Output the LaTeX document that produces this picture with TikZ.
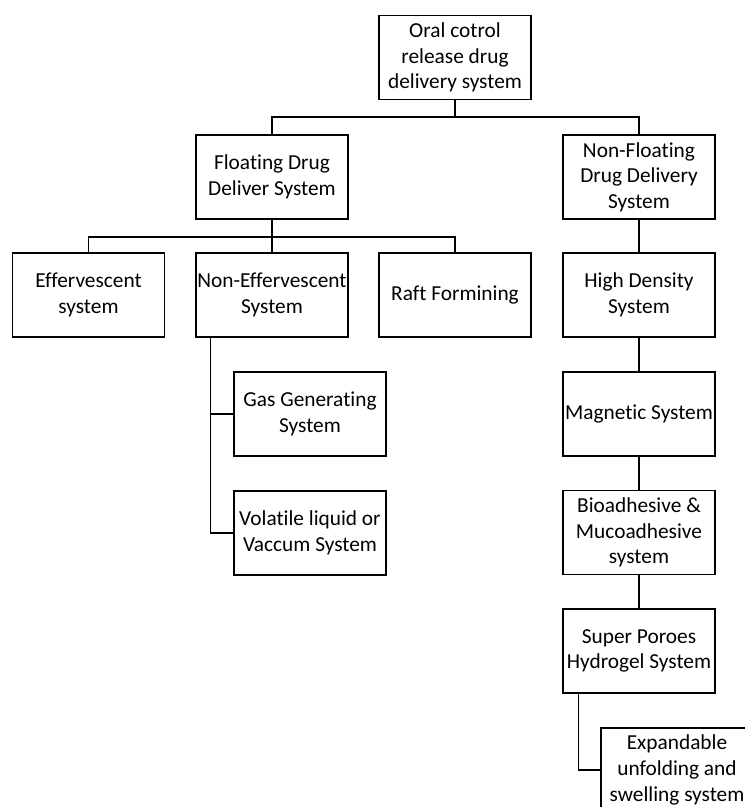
\documentclass[tikz,border=0pt]{standalone}
\usepackage{fontspec}
\setmainfont{Carlito}[Ligatures={NoCommon}]
\tikzstyle{boxnode}=[draw, line width=1.1pt, minimum width=114pt, minimum height=63pt, align=center, inner sep=1pt, font=\fontsize{16}{19.2}\selectfont]
\tikzstyle{linkline}=[line width=1pt]
\begin{document}
\begin{tikzpicture}[x=0.75pt, y=-0.75pt]
  \useasboundingbox (0,0) rectangle (745,807);
  \node[boxnode] (Oral) at (455,57.5) {Oral cotrol\\release drug\\delivery system};
  \node[boxnode] (Float) at (272,177) {Floating Drug\\Deliver System};
  \node[boxnode] (NonFloat) at (639,177) {Non-Floating\\Drug Delivery\\System};
  \node[boxnode] (Efferv) at (88.5,295) {Effervescent\\system};
  \node[boxnode] (NonEfferv) at (272,295) {Non-Effervescent\\System};
  \node[boxnode] (Raft) at (455,295) {Raft Formining};
  \node[boxnode] (HighDens) at (639,295) {High Density\\System};
  \node[boxnode] (GasGen) at (310,414) {Gas Generating\\System};
  \node[boxnode] (Volatile) at (310,533) {Volatile liquid or\\Vaccum System};
  \node[boxnode] (Magnet) at (639,414) {Magnetic System};
  \node[boxnode] (Bioadh) at (639,532.5) {Bioadhesive \&\\Mucoadhesive\\system};
  \node[boxnode] (SuperPor) at (639,651) {Super Poroes\\Hydrogel System};
  \node[boxnode] (Expand) at (677,770) {Expandable\\unfolding and\\swelling system};
  \coordinate (Bus1) at (455,117);
  \coordinate (Bus2) at (272,237);
  \draw[linkline] (Oral.south) -- (Bus1);
  \draw[linkline] (Float.north) |- (Bus1) -| (NonFloat.north);
  \draw[linkline] (Float.south) -- (NonEfferv.north);
  \draw[linkline] (Efferv.north) |- (Bus2) -| (Raft.north);
  \draw[linkline] ([xshift=11.25pt]NonEfferv.south west) |- (GasGen.west);
  \draw[linkline] ([xshift=11.25pt]NonEfferv.south west) |- (Volatile.west);
  \draw[linkline] (NonFloat.south) -- (HighDens.north);
  \draw[linkline] (HighDens.south) -- (Magnet.north);
  \draw[linkline] (Magnet.south) -- (Bioadh.north);
  \draw[linkline] (Bioadh.south) -- (SuperPor.north);
  \draw[linkline] ([xshift=12pt]SuperPor.south west) |- (Expand.west);
\end{tikzpicture}
\end{document}
